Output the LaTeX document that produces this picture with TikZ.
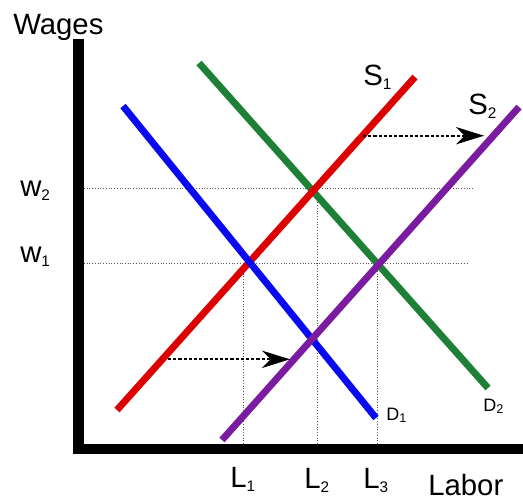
\documentclass[tikz,border=0pt]{standalone}
\usepackage{fontspec}
\setmainfont{Liberation Sans}
\usetikzlibrary{arrows.meta}
\definecolor{supred}{RGB}{220,0,0}
\definecolor{supviolet}{RGB}{122,27,160}
\definecolor{demblue}{RGB}{10,10,240}
\definecolor{demgreen}{RGB}{30,128,52}
\newcommand{\lowsub}[1]{\raisebox{-3pt}{\fontsize{11.5}{12}\selectfont #1}}
\newcommand{\tinysub}[1]{\raisebox{-2.2pt}{\fontsize{9.5}{10}\selectfont #1}}
\begin{document}
\begin{tikzpicture}[x=0.75pt,y=-0.75pt,
    curve/.style={line width=5.2pt},
    guide/.style={black!65,line width=0.75pt,dash pattern=on 0.75pt off 1.3pt},
    movearrow/.style={line width=1.5pt,dash pattern=on 2.4pt off 1.5pt,-{Stealth[length=21pt,width=13pt,inset=6.5pt]}},
    lbl/.style={inner sep=0,anchor=base west,font=\fontsize{22}{26}\selectfont},
    small/.style={inner sep=0,anchor=base west,font=\fontsize{13.5}{16}\selectfont}]
    \useasboundingbox (0,0) rectangle (523,501);
    % guide lines
    \coordinate (w2a) at (84,188); \coordinate (w2b) at (473,188);
    \coordinate (w1a) at (84,263); \coordinate (w1b) at (467,263);
    \coordinate (l1a) at (243.3,444); \coordinate (l1b) at (243.3,263);
    \coordinate (l2a) at (317.7,444); \coordinate (l2b) at (317.7,182);
    \coordinate (l3a) at (377.7,444); \coordinate (l3b) at (377.7,263);
    \draw[guide] (w2a)--(w2b);
    \draw[guide] (w1a)--(w1b);
    \draw[guide] (l1a)--(l1b);
    \draw[guide] (l2a)--(l2b);
    \draw[guide] (l3a)--(l3b);
    % curves
    \coordinate (s1lo) at (117,410); \coordinate (s1hi) at (415,77);
    \coordinate (s2lo) at (222,440); \coordinate (s2hi) at (519,107);
    \coordinate (d1hi) at (123,106); \coordinate (d1lo) at (376,418);
    \coordinate (d2hi) at (199,63); \coordinate (d2lo) at (488,388);
    \draw[curve,demgreen] (d2hi)--(d2lo);
    \draw[curve,supred] (s1lo)--(s1hi);
    \draw[curve,demblue] (d1hi)--(d1lo);
    \draw[curve,supviolet] (s2lo)--(s2hi);
    % shift arrows
    \coordinate (lowfrom) at (168,359.3); \coordinate (lowto) at (290,359.3);
    \coordinate (highfrom) at (363,135.7); \coordinate (highto) at (484,135.7);
    \draw[movearrow] (lowfrom)--(lowto);
    \draw[movearrow] (highfrom)--(highto);
    % axes
    \draw[line width=8pt,miter limit=4] (78.5,39)--(78.5,449)--(523,449);
    % labels
    \node[lbl] (wages) at (13,34) {Wages};
    \node[lbl] (labor) at (428,495.5) {Labor};
    \node[lbl] (s1) at (363,85) {S\lowsub{1}};
    \node[lbl] (s2) at (468,114) {S\lowsub{2}};
    \node[lbl] (w2) at (20,196) {w\lowsub{2}};
    \node[lbl] (w1) at (20,262) {w\lowsub{1}};
    \node[lbl] (l1) at (230,487) {L\lowsub{1}};
    \node[lbl] (l2) at (304,488) {L\lowsub{2}};
    \node[lbl] (l3) at (363,488) {L\lowsub{3}};
    \node[small] (d1) at (386,420) {D\tinysub{1}};
    \node[small] (d2) at (483,411) {D\tinysub{2}};
\end{tikzpicture}
\end{document}
